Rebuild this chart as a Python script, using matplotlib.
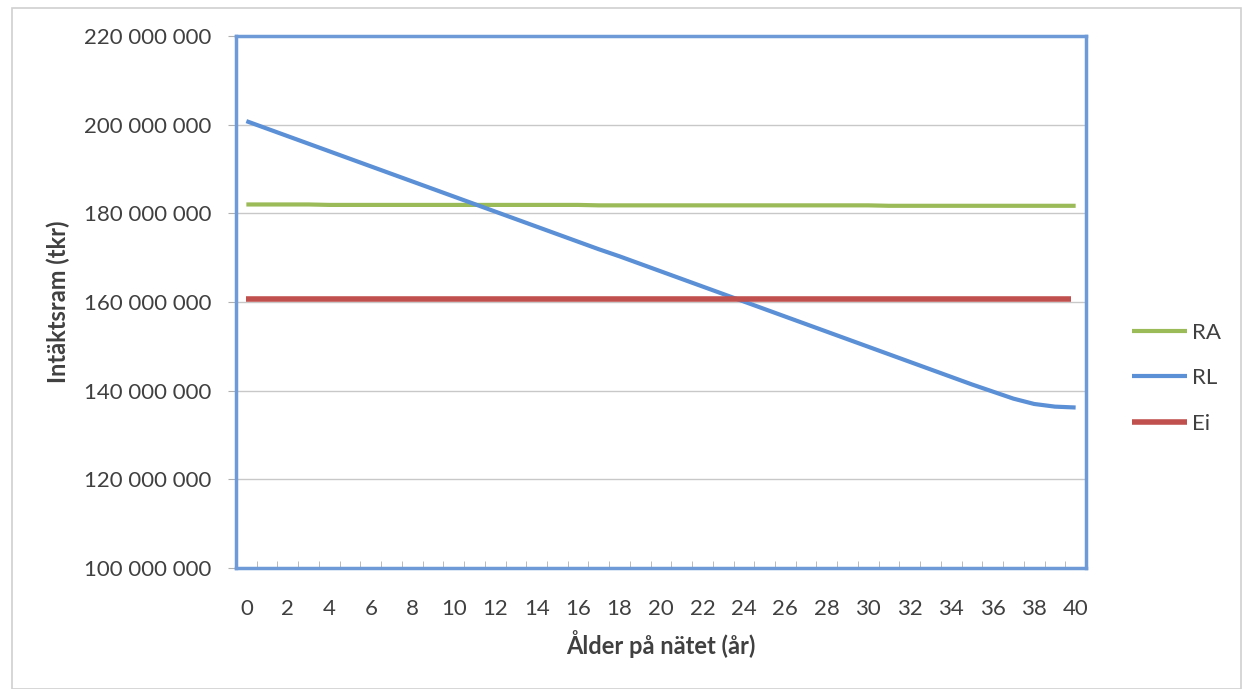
import matplotlib
matplotlib.use("Agg")
import matplotlib.pyplot as plt
from matplotlib.patches import Rectangle
import numpy as np

plt.rcParams['font.family'] = ['Lato', 'DejaVu Sans']

years = list(range(0, 41))
# values in tkr
RA = [182.0, 182.0, 182.0, 182.0, 181.9, 181.9, 181.9, 181.9, 181.9, 181.9,
      181.9, 181.9, 181.9, 181.9, 181.9, 181.9, 181.9, 181.8, 181.8, 181.8,
      181.8, 181.8, 181.8, 181.8, 181.8, 181.8, 181.8, 181.8, 181.8, 181.8,
      181.8, 181.7, 181.7, 181.7, 181.7, 181.7, 181.7, 181.7, 181.7, 181.7, 181.7]
RL = [200.8, 199.1, 197.4, 195.7, 194.0, 192.3, 190.6, 188.9, 187.2, 185.5,
      183.8, 182.1, 180.4, 178.7, 177.0, 175.3, 173.6, 171.9, 170.3, 168.6,
      166.9, 165.2, 163.5, 161.8, 160.1, 158.4, 156.7, 155.0, 153.3, 151.6,
      149.9, 148.2, 146.5, 144.8, 143.1, 141.4, 139.8, 138.2, 137.0, 136.4, 136.2]
Ei = [160.7] * 41
RA = [v * 1e6 for v in RA]
RL = [v * 1e6 for v in RL]
Ei = [v * 1e6 for v in Ei]

yticks = [100e6, 120e6, 140e6, 160e6, 180e6, 200e6, 220e6]
xtick_vals = list(range(0, 41, 2))

txt = '#404040'
fig = plt.figure(figsize=(12.42, 6.89), dpi=100)
fig.patches.append(Rectangle((12/1242, 0.0), 1 - 12/1242 - 0.001, 1 - 8/689, transform=fig.transFigure,
                             fill=False, edgecolor='#d0d0d0', linewidth=1.2))
ax = fig.add_axes([236/1242, 1 - 568/689, (1086-236)/1242, (568-36)/689])

ax.plot(years, RA, color='#9BBB59', lw=3, label='RA', solid_capstyle='butt')
ax.plot(years, RL, color='#5B8FD6', lw=3, label='RL', solid_capstyle='butt')
ax.plot(years[:-1] + [39.8], Ei, color='#C0504D', lw=4, label='Ei', solid_capstyle='butt')

ax.set_xlim(-0.5, 40.5)
ax.set_ylim(100e6, 220e6)
ax.set_yticks(yticks)
ax.set_yticklabels([f"{int(v):,}".replace(',', ' ') for v in yticks])
ax.set_xticks(xtick_vals)
ax.set_xticklabels([str(v) for v in xtick_vals])
ax.set_xticks(np.arange(-0.5, 41, 1.0), minor=True)
ax.yaxis.grid(True, color='#c8c8c8', lw=1)
ax.set_axisbelow(True)
for s in ax.spines.values():
    s.set_color('#6E9BD8')
    s.set_linewidth(2.5)
ax.tick_params(axis='y', length=6, color='#b0b0b0', labelsize=16, labelcolor=txt, pad=12)
ax.tick_params(axis='x', which='major', length=0, labelsize=16, labelcolor=txt, pad=22)
ax.tick_params(axis='x', which='minor', length=5, color='#b0b0b0', direction='in')

ax.set_xlabel('Ålder på nätet (år)', fontsize=17, fontweight='bold', color=txt, labelpad=8)
ax.set_ylabel('Intäktsram (tkr)', fontsize=17, fontweight='bold', color=txt, labelpad=10)

leg = ax.legend(loc='center left', bbox_to_anchor=(1.03, 0.357), frameon=False, fontsize=16,
                handlelength=2.5, handletextpad=0.2, labelspacing=1.15, labelcolor=txt)

fig.savefig('out.png', dpi=100, facecolor='white')
